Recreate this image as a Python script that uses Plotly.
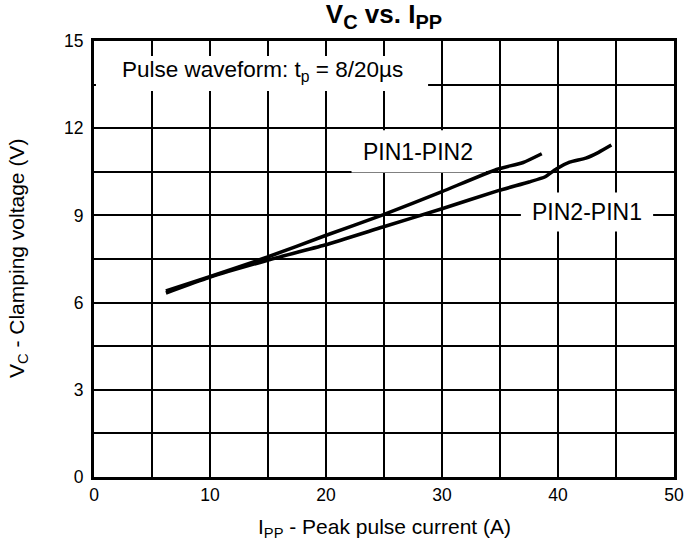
import plotly.graph_objects as go

# ---- data ----
pin12_x = [6.2, 9.9, 14.9, 19.9, 24.9, 30.0, 34.7, 37.0, 38.6]
pin12_y = [6.40, 6.88, 7.56, 8.30, 9.02, 9.82, 10.58, 10.82, 11.12]

pin21_x = [6.2, 9.9, 14.9, 19.9, 24.9, 30.0, 34.85, 37.5, 38.9, 39.85, 41.0, 42.4, 43.5, 44.6]
pin21_y = [6.33, 6.86, 7.45, 7.98, 8.60, 9.23, 9.85, 10.15, 10.33, 10.60, 10.83, 10.97, 11.17, 11.42]

x_ticks = [0, 10, 20, 30, 40, 50]
y_ticks = [0, 3, 6, 9, 12, 15]

FONT = "Liberation Sans, Arial, sans-serif"

fig = go.Figure()
fig.add_trace(go.Scatter(x=pin12_x, y=pin12_y, mode="lines", name="PIN1-PIN2",
                         line=dict(color="black", width=3.5, shape="spline", smoothing=0.5)))
fig.add_trace(go.Scatter(x=pin21_x, y=pin21_y, mode="lines", name="PIN2-PIN1",
                         line=dict(color="black", width=3.5, shape="spline", smoothing=0.5)))

# white label boxes (cover grid lines)
boxes = [
    (0.17, 13.28, 28.8, 14.48),
    (22.2, 10.48, 33.8, 11.93),
    (36.8, 8.45, 48.2, 9.79),
]
for x0, y0, x1, y1 in boxes:
    fig.add_shape(type="rect", xref="x", yref="y", x0=x0, y0=y0, x1=x1, y1=y1,
                  fillcolor="white", line=dict(width=0), layer="between")

fig.add_annotation(x=2.2, y=13.97, xref="x", yref="y", xanchor="left", yanchor="middle",
                   text="Pulse waveform: t<sub>p</sub> = 8/20µs", showarrow=False,
                   font=dict(family=FONT, size=22.5, color="black"))
fig.add_annotation(x=27.9, y=11.17, xref="x", yref="y", xanchor="center", yanchor="middle",
                   text="PIN1-PIN2", showarrow=False,
                   font=dict(family=FONT, size=23, color="black"))
fig.add_annotation(x=42.5, y=9.1, xref="x", yref="y", xanchor="center", yanchor="middle",
                   text="PIN2-PIN1", showarrow=False,
                   font=dict(family=FONT, size=23, color="black"))

# axis titles
fig.add_annotation(x=0.5, y=0, xref="paper", yref="paper", xanchor="center", yanchor="middle",
                   yshift=-51, text="I<sub>PP</sub> - Peak pulse current (A)", showarrow=False,
                   font=dict(family=FONT, size=21, color="black"))
fig.add_annotation(x=0, y=0.5, xref="paper", yref="paper", xanchor="center", yanchor="middle",
                   xshift=-76, textangle=-90, text="V<sub>C</sub> - Clamping voltage (V)",
                   showarrow=False, font=dict(family=FONT, size=21, color="black"))

fig.update_layout(
    width=686, height=550,
    margin=dict(l=94, r=12, t=41, b=73),
    paper_bgcolor="white", plot_bgcolor="white",
    showlegend=False,
    font=dict(family=FONT, color="black"),
    title=dict(text="<b>V<sub><span style='font-size:20px'>C</span></sub> vs. "
                    "I<sub><span style='font-size:20px'>PP</span></sub></b>",
               x=0.5, xref="paper",
               xanchor="center", y=0.991, yanchor="top",
               font=dict(family=FONT, size=26, color="black")),
)
fig.update_xaxes(range=[0, 50], tickvals=x_ticks, ticktext=[str(v) for v in x_ticks],
                 automargin=False,
                 showgrid=True, gridcolor="black", gridwidth=1.5,
                 minor=dict(dtick=5, showgrid=True, gridcolor="black", gridwidth=1.5),
                 showline=True, linecolor="black", linewidth=3, mirror=True,
                 zeroline=False, ticks="", tickfont=dict(size=17.5, family=FONT),
                 ticklabelstandoff=0)
fig.update_yaxes(range=[0, 15], tickvals=y_ticks, ticktext=[str(v) for v in y_ticks],
                 automargin=False,
                 showgrid=True, gridcolor="black", gridwidth=1.5,
                 minor=dict(dtick=1.5, showgrid=True, gridcolor="black", gridwidth=1.5),
                 showline=True, linecolor="black", linewidth=3, mirror=True,
                 zeroline=False, ticks="", tickfont=dict(size=17.5, family=FONT),
                 ticklabelstandoff=4)

fig.write_html("out.html", config={"displayModeBar": False},
               post_script="document.body.style.margin='0';document.body.style.padding='0';")
